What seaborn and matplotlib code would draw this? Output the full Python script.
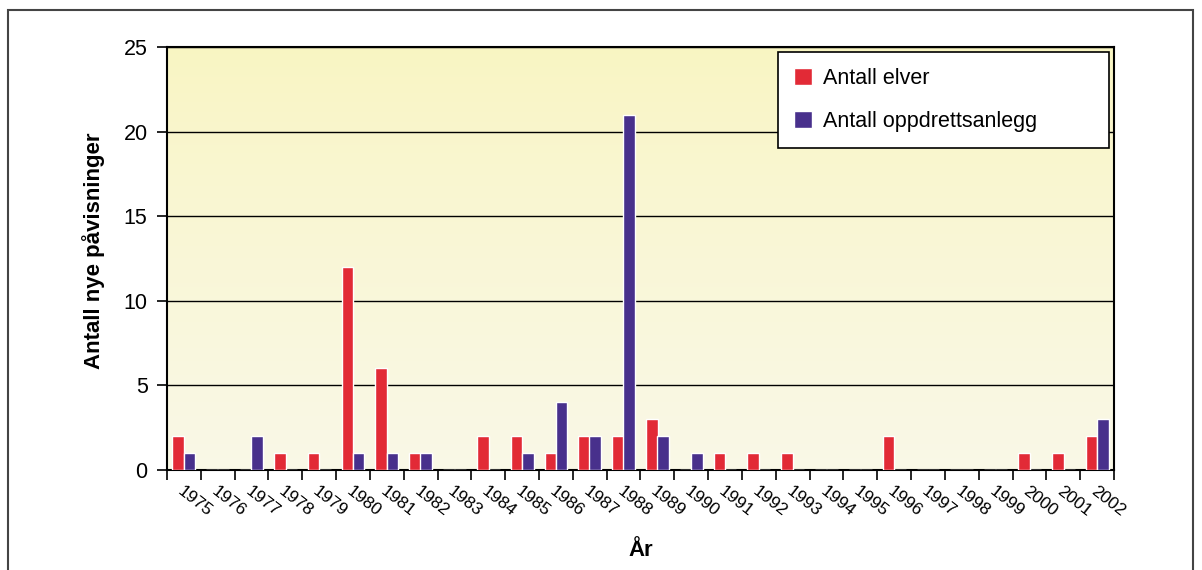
import numpy as np
import pandas as pd
import matplotlib
matplotlib.use("Agg")
import matplotlib.pyplot as plt
from matplotlib.patches import Rectangle
import seaborn as sns

years = [str(y) for y in range(1975, 2003)]
elver = [2, 0, 0, 1, 1, 12, 6, 1, 0, 2, 2, 1, 2, 2, 3, 0, 1, 1, 1, 0, 0, 2, 0, 0, 0, 1, 1, 2]
oppdrett = [1, 0, 2, 0, 0, 1, 1, 1, 0, 0, 1, 4, 2, 21, 2, 1, 0, 0, 0, 0, 0, 0, 0, 0, 0, 0, 0, 3]
series_names = ["Antall elver", "Antall oppdrettsanlegg"]
colors = ["#E22A36", "#48308C"]

df = pd.DataFrame({
    "År": years * 2,
    "verdi": elver + oppdrett,
    "serie": [series_names[0]] * len(years) + [series_names[1]] * len(years),
})

sns.set_theme(style="white")
plt.rcParams["font.family"] = ["Liberation Sans", "DejaVu Sans"]
plt.rcParams["text.color"] = "black"
plt.rcParams["axes.labelcolor"] = "black"
plt.rcParams["xtick.color"] = "black"
plt.rcParams["ytick.color"] = "black"

fig = plt.figure(figsize=(12.02, 5.70), dpi=100)
ax = fig.add_axes([167 / 1202, 1 - 470 / 570, (1114 - 167) / 1202, (470 - 47) / 570])

# pale yellow gradient behind the plot area
grad = np.linspace(0, 1, 256) ** 0.8
top = np.array([0.976, 0.961, 0.760])
bot = np.array([0.980, 0.973, 0.905])
img = (top + (bot - top) * grad[:, None])[:, None, :]
ax.imshow(img, extent=[-0.5, len(years) - 0.5, 0, 25], aspect="auto", zorder=0,
          origin="upper")

sns.barplot(data=df, x="År", y="verdi", hue="serie", palette=colors,
            width=0.66, gap=-0.05, saturation=1, ax=ax, zorder=3,
            legend=True)

ax.set_xlim(-0.5, len(years) - 0.5)
ax.set_ylim(0, 25)
ax.set_yticks([0, 5, 10, 15, 20, 25])
ax.yaxis.grid(True, color="black", linewidth=1.0, zorder=1)
ax.set_axisbelow(True)
for s in ax.spines.values():
    s.set_color("black")
    s.set_linewidth(1.5)
    s.set_visible(True)

ax.tick_params(axis="y", which="major", direction="out", length=7, width=1.2,
               color="black", labelsize=15.5, left=True, pad=7)

# ticks at category boundaries, labels at centers
ax.set_xticks(np.arange(-0.5, len(years), 1.0))
ax.set_xticklabels([])
ax.tick_params(axis="x", which="major", direction="out", length=7, width=1.2,
               color="black", bottom=True)
ax.set_xticks(np.arange(len(years)), minor=True)
ax.set_xticklabels(years, minor=True, rotation=-38, ha="left", va="top",
                   rotation_mode="anchor", fontsize=12.5)
ax.tick_params(axis="x", which="minor", length=0, pad=10)

ax.set_xlabel("År", fontsize=16, fontweight="bold", va="center")
ax.xaxis.set_label_coords(0.5, (470 - 550) / 423)
ax.set_ylabel("Antall nye påvisninger", fontsize=16, fontweight="bold", va="center")
ax.yaxis.set_label_coords((94 - 167) / 947, (470 - 251) / 423)

leg = ax.legend(loc="upper left", bbox_to_anchor=(0.645, 0.768, 0.9947 - 0.645, 0.22),
                mode="expand", frameon=True,
                fancybox=False, shadow=False, fontsize=15.5, handlelength=0.85,
                handleheight=0.85, labelspacing=1.0, borderpad=0.75,
                handletextpad=0.5, borderaxespad=0)
leg.get_frame().set_edgecolor("black")
leg.get_frame().set_linewidth(1.2)
leg.get_frame().set_facecolor("white")
leg.get_frame().set_alpha(1)
leg.set_title(None)

# outer chart frame
fig.patches.append(Rectangle((8 / 1202, -0.05), (1193 - 8) / 1202, 1.05 - 10 / 570,
                             transform=fig.transFigure, fill=False,
                             edgecolor="#444444", linewidth=1.5))

fig.savefig("out.png", dpi=100)
